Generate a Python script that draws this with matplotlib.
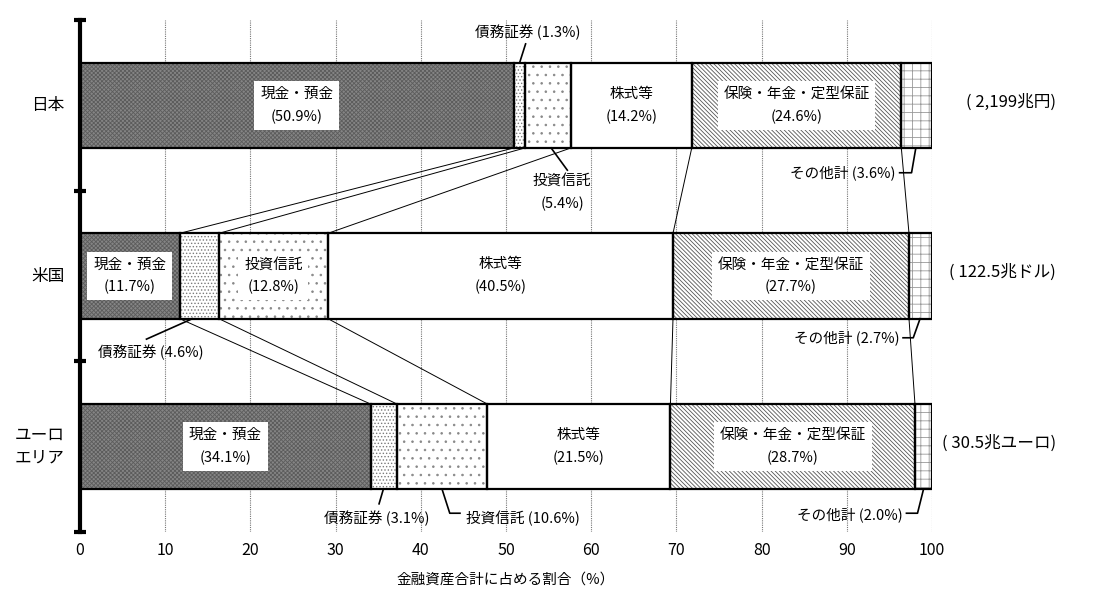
import matplotlib
matplotlib.use("Agg")
import matplotlib.pyplot as plt
import matplotlib.transforms as mtrans
import numpy as np

plt.rcParams['font.family'] = ['Noto Sans CJK JP', 'DejaVu Sans']
plt.rcParams['hatch.linewidth'] = 0.6

# ---------------- data ----------------
categories = ['日本', '米国', 'ユーロ\nエリア']
items = ['現金・預金', '債務証券', '投資信託', '株式等', '保険・年金・定型保証', 'その他計']
japan = [50.9, 1.3, 5.4, 14.2, 24.6, 3.6]
us = [11.7, 4.6, 12.8, 40.5, 27.7, 2.7]
euro = [34.1, 3.1, 10.6, 21.5, 28.7, 2.0]
totals = ['( 2,199兆円)', '( 122.5兆ドル)', '( 30.5兆ユーロ)']
xticks = [0, 10, 20, 30, 40, 50, 60, 70, 80, 90, 100]
xlabel = '金融資産合計に占める割合（%）'

# ---------------- styles ----------------
faces = ['#858585', 'white', 'white', 'white', 'white', 'white']
hatch_cols = ['#5c5c5c', '#7a7a7a', '#888888', 'white', '#555555', '#999999']
hatches = ['xxxxxxxx', '.....', '..', None, '\\\\\\\\\\\\\\\\', '++']

data = [japan, us, euro]
ypos = [2.5, 1.5, 0.5]
bar_h = 0.5

fig = plt.figure(figsize=(11.01, 5.95), dpi=100)
ax = fig.add_axes([80 / 1101, 63 / 595, 852 / 1101, 512 / 595])
ax.set_xlim(0, 100)
ax.set_ylim(0, 3)

# grid
ax.vlines(xticks[1:], 0, 3, colors='#777777', linewidth=0.8,
          linestyles=(0, (1, 1)), zorder=0)

cums = []
for vals, y in zip(data, ypos):
    left = np.concatenate([[0], np.cumsum(vals)[:-1]])
    cums.append(np.cumsum(vals))
    for j, (v, l) in enumerate(zip(vals, left)):
        ax.barh(y, v, left=l, height=bar_h, color=faces[j],
                edgecolor=hatch_cols[j], hatch=hatches[j], linewidth=0, zorder=2)
        ax.barh(y, v, left=l, height=bar_h, fill=False,
                edgecolor='black', linewidth=1.6, zorder=3)

# connector lines between bars
for i in range(2):
    a = cums[i][:-1]
    b = cums[i + 1][:-1]
    for xa, xb in zip(a, b):
        ax.plot([xa, xb], [ypos[i] - bar_h / 2, ypos[i + 1] + bar_h / 2],
                color='black', linewidth=0.7, zorder=1)

fs = 10.5
box = dict(boxstyle='square,pad=0.4', fc='white', ec='none')

# inside labels
inside = [[0, 3, 4], [0, 2, 3, 4], [0, 3, 4]]
for vals, y, idxs in zip(data, ypos, inside):
    left = np.concatenate([[0], np.cumsum(vals)[:-1]])
    for j in idxs:
        cx = left[j] + vals[j] / 2
        ax.text(cx, y, f'{items[j]}\n({vals[j]}%)', ha='center', va='center',
                fontsize=fs, linespacing=1.75, zorder=4,
                bbox=box if j != 3 else None)

# outside labels with leaders
lk = dict(color='black', linewidth=1.2, zorder=4)
# Japan bonds
ax.text(52.6, 2.93, f'{items[1]} ({japan[1]}%)', ha='center', va='center', fontsize=fs)
ax.plot([51.6, 52.3], [2.75, 2.86], **lk)
# Japan investment trusts
ax.text(56.6, 1.99, f'{items[2]}\n({japan[2]}%)', ha='center', va='center',
        fontsize=fs, linespacing=1.7)
ax.plot([55.3, 57.2], [2.25, 2.12], **lk)
# Japan others
ax.text(95.7, 2.105, f'{items[5]} ({japan[5]}%)', ha='right', va='center', fontsize=fs)
ax.plot([96.2, 97.6, 98.1], [2.105, 2.105, 2.25], **lk)
# US bonds
ax.text(8.3, 1.05, f'{items[1]} ({us[1]}%)', ha='center', va='center', fontsize=fs)
ax.plot([13.2, 7.8], [1.25, 1.13], **lk)
# US others
ax.text(96.2, 1.138, f'{items[5]} ({us[5]}%)', ha='right', va='center', fontsize=fs)
ax.plot([96.6, 97.8, 98.6], [1.138, 1.138, 1.25], **lk)
# Euro bonds
ax.text(34.8, 0.082, f'{items[1]} ({euro[1]}%)', ha='center', va='center', fontsize=fs)
ax.plot([35.6, 35.1], [0.25, 0.165], **lk)
# Euro investment trusts
ax.text(45.3, 0.082, f'{items[2]} ({euro[2]}%)', ha='left', va='center', fontsize=fs)
ax.plot([42.5, 43.4, 44.6], [0.25, 0.11, 0.11], **lk)
# Euro others
ax.text(96.6, 0.10, f'{items[5]} ({euro[5]}%)', ha='right', va='center', fontsize=fs)
ax.plot([97.0, 98.3, 99.0], [0.11, 0.11, 0.25], **lk)

# category labels
for c, y in zip(categories, ypos):
    ax.text(-1.8, y, c, ha='right', va='center', fontsize=12, linespacing=1.4)

# totals (x in figure coords, y in data coords)
blend = mtrans.blended_transform_factory(fig.transFigure, ax.transData)
for t, y in zip(totals, ypos):
    ax.text(1056 / 1101, y + 0.02, t, transform=blend, ha='right', va='center',
            fontsize=12, clip_on=False)

# spines & ticks
for s in ['top', 'right', 'bottom']:
    ax.spines[s].set_visible(False)
ax.spines['left'].set_linewidth(3)
ax.set_yticks([0, 1, 2, 3])
ax.set_yticklabels([])
ax.tick_params(axis='y', direction='inout', length=8, width=3)
ax.set_xticks(xticks)
ax.set_xticklabels([str(v) for v in xticks], fontsize=11.5)
ax.tick_params(axis='x', length=0, pad=7)

fig.text(506 / 1101, 1 - 580 / 595, xlabel, ha='center', va='center', fontsize=10.5)

fig.savefig('out.png', dpi=100)
